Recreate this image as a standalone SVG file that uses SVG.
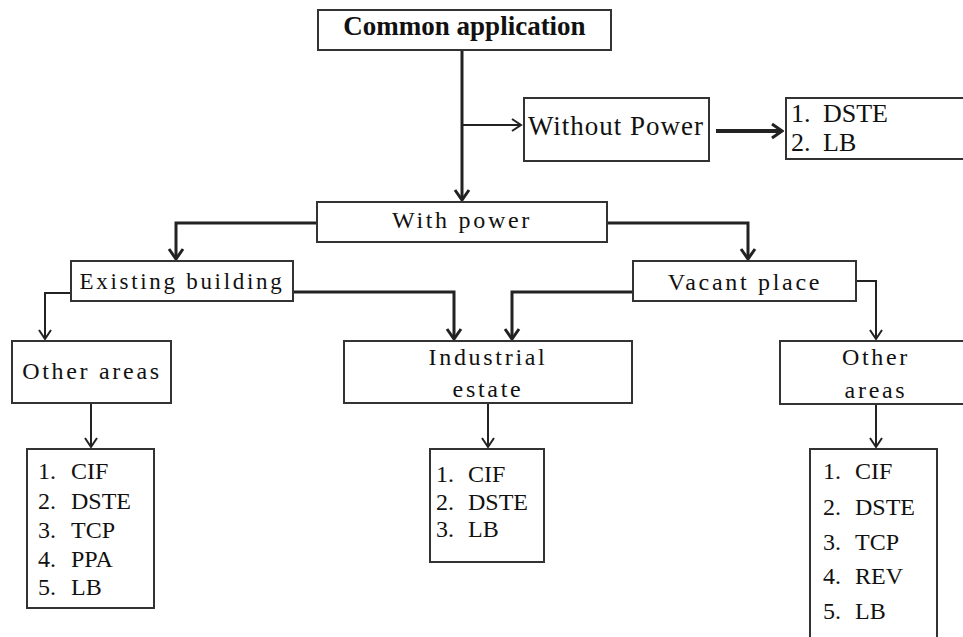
<svg xmlns="http://www.w3.org/2000/svg" width="963" height="637" viewBox="0 0 963 637" font-family="'Liberation Serif', 'DejaVu Serif', serif">
<defs>
<style>
text{font-family:'Liberation Serif','DejaVu Serif',serif;fill:#111}
.box{fill:#fff;stroke:#333;stroke-width:2}
.lbl{font-size:24px;letter-spacing:2.7px;text-anchor:middle}
.lst{font-size:24px}
.thin{fill:none;stroke:#222;stroke-width:2}
.thick{fill:none;stroke:#222;stroke-width:3}
</style>
<marker id="ah" markerUnits="userSpaceOnUse" viewBox="-12 -8 14 16" refX="0" refY="0" markerWidth="14" markerHeight="16" orient="auto">
<path d="M-9,-6 L0,0 L-9,6" fill="none" stroke="#222" stroke-width="2"/>
</marker>
<marker id="ahk" markerUnits="userSpaceOnUse" viewBox="-14 -9 16 18" refX="0" refY="0" markerWidth="16" markerHeight="18" orient="auto">
<path d="M-10,-7 L0,0 L-10,7" fill="none" stroke="#222" stroke-width="3"/>
</marker>
</defs>
<rect width="963" height="637" fill="#fff"/>
<g id="connectors">
<path class="thick" d="M462,50 V200" marker-end="url(#ahk)"/>
<path class="thin" d="M462,125 H521" marker-end="url(#ah)"/>
<path d="M716,131 H782" fill="none" stroke="#222" stroke-width="4" marker-end="url(#ahk)"/>
<path class="thick" d="M317,223 H176 V259" marker-end="url(#ahk)"/>
<path class="thick" d="M607,223 H748 V259" marker-end="url(#ahk)"/>
<path class="thin" d="M71,293 H45 V339" marker-end="url(#ah)"/>
<path class="thick" d="M293,292 H454 V339" marker-end="url(#ahk)"/>
<path class="thick" d="M633,292 H512 V339" marker-end="url(#ahk)"/>
<path class="thin" d="M856,281 H876 V339" marker-end="url(#ah)"/>
<path class="thin" d="M91,403 V447" marker-end="url(#ah)"/>
<path class="thin" d="M488,403 V447" marker-end="url(#ah)"/>
<path class="thin" d="M876,404 V447" marker-end="url(#ah)"/>
</g>
<g id="common">
<rect class="box" x="318" y="10" width="293" height="40"/>
<text x="464.5" y="35" font-size="27" font-weight="bold" text-anchor="middle">Common application</text>
</g>
<g id="without">
<rect class="box" x="524" y="98" width="185" height="63"/>
<text x="616" y="135" font-size="27" letter-spacing="1" text-anchor="middle">Without Power</text>
</g>
<g id="without-list">
<rect class="box" x="786" y="98" width="190" height="61"/>
<text font-size="26"><tspan x="791" y="122">1.</tspan><tspan x="823" y="122">DSTE</tspan><tspan x="791" y="151">2.</tspan><tspan x="823" y="151">LB</tspan></text>
</g>
<g id="with">
<rect class="box" x="317" y="202" width="290" height="40"/>
<text class="lbl" x="462" y="228">With power</text>
</g>
<g id="existing">
<rect class="box" x="71" y="261" width="222" height="40"/>
<text class="lbl" x="182" y="289" style="font-size:23px">Existing building</text>
</g>
<g id="vacant">
<rect class="box" x="633" y="261" width="223" height="40"/>
<text class="lbl" x="745" y="290">Vacant place</text>
</g>
<g id="other-left">
<rect class="box" x="12" y="341" width="159" height="62"/>
<text class="lbl" x="92" y="379">Other areas</text>
</g>
<g id="industrial">
<rect class="box" x="344" y="341" width="288" height="62"/>
<text class="lbl" x="488" y="365">Industrial</text>
<text class="lbl" x="488" y="397">estate</text>
</g>
<g id="other-right">
<rect class="box" x="780" y="341" width="195" height="63"/>
<text class="lbl" x="876" y="365">Other</text>
<text class="lbl" x="876" y="398">areas</text>
</g>
<g id="list-left">
<rect class="box" x="27" y="449" width="127" height="159"/>
<text class="lst"><tspan x="38" y="479">1.</tspan><tspan x="71" y="479">CIF</tspan><tspan x="38" y="509">2.</tspan><tspan x="71" y="509">DSTE</tspan><tspan x="38" y="538">3.</tspan><tspan x="71" y="538">TCP</tspan><tspan x="38" y="567">4.</tspan><tspan x="71" y="567">PPA</tspan><tspan x="38" y="595">5.</tspan><tspan x="71" y="595">LB</tspan></text>
</g>
<g id="list-industrial">
<rect class="box" x="430" y="449" width="114" height="113"/>
<text class="lst"><tspan x="436" y="482">1.</tspan><tspan x="468" y="482">CIF</tspan><tspan x="436" y="510">2.</tspan><tspan x="468" y="510">DSTE</tspan><tspan x="436" y="537">3.</tspan><tspan x="468" y="537">LB</tspan></text>
</g>
<g id="list-right">
<rect class="box" x="810" y="449" width="127" height="210"/>
<text class="lst"><tspan x="823" y="479">1.</tspan><tspan x="855" y="479">CIF</tspan><tspan x="823" y="515">2.</tspan><tspan x="855" y="515">DSTE</tspan><tspan x="823" y="550">3.</tspan><tspan x="855" y="550">TCP</tspan><tspan x="823" y="584">4.</tspan><tspan x="855" y="584">REV</tspan><tspan x="823" y="619">5.</tspan><tspan x="855" y="619">LB</tspan></text>
</g>
</svg>
